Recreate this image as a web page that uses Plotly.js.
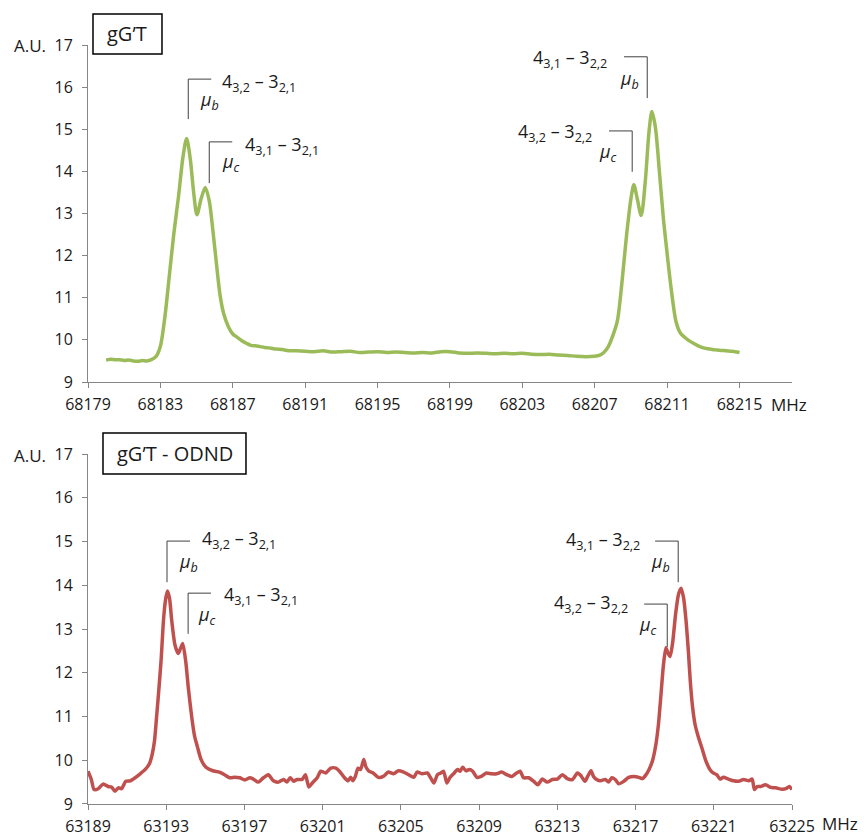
<!DOCTYPE html>
<html>
<head>
<meta charset="utf-8">
<script src="https://cdn.plot.ly/plotly-3.0.1.min.js"></script>
<style>html,body{margin:0;padding:0;background:#fff;}#chart{width:864px;height:837px;}</style>
</head>
<body>
<div id="chart"></div>
<script>
// ---- Top spectrum: gG'T ----
const topFreq = [68180.0,68180.25,68180.5,68180.75,68181.0,68181.25,68181.5,68181.75,68182.0,68182.25,68182.5,68182.75,68183.0,68183.25,68183.5,68183.75,68184.0,68184.25,68184.45,68184.65,68184.85,68185.02,68185.25,68185.48,68185.7,68185.9,68186.1,68186.3,68186.5,68186.75,68187.0,68187.25,68187.5,68187.75,68188.0,68188.25,68188.5,68188.75,68189.0,68189.25,68189.5,68189.75,68190.0,68190.5,68191.0,68191.5,68192.0,68192.5,68193.0,68193.5,68194.0,68194.5,68195.0,68195.5,68196.0,68196.5,68197.0,68197.5,68198.0,68198.5,68199.0,68199.5,68200.0,68200.5,68201.0,68201.5,68202.0,68202.5,68203.0,68203.5,68204.0,68204.5,68205.0,68205.5,68206.0,68206.5,68207.0,68207.25,68207.5,68207.75,68208.0,68208.25,68208.5,68208.75,68209.0,68209.16,68209.35,68209.57,68209.8,68210.0,68210.16,68210.35,68210.58,68210.8,68211.0,68211.23,68211.5,68211.75,68212.0,68212.25,68212.5,68212.75,68213.0,68213.25,68213.5,68213.75,68214.0,68214.25,68214.5,68214.75,68215.0];
const topAmp = [9.52,9.54,9.53,9.53,9.51,9.52,9.50,9.49,9.51,9.50,9.53,9.60,9.85,10.55,11.55,12.55,13.4,14.35,14.78,14.3,13.45,12.97,13.35,13.62,13.3,12.6,11.8,11.05,10.62,10.32,10.14,10.06,9.98,9.92,9.87,9.86,9.84,9.82,9.81,9.79,9.78,9.77,9.75,9.74,9.73,9.72,9.74,9.71,9.72,9.73,9.70,9.71,9.72,9.70,9.71,9.70,9.69,9.70,9.69,9.72,9.72,9.69,9.68,9.69,9.68,9.67,9.68,9.67,9.68,9.66,9.65,9.66,9.64,9.63,9.61,9.60,9.61,9.63,9.70,9.84,10.1,10.45,11.35,12.45,13.35,13.68,13.35,12.95,13.8,14.95,15.42,15.05,13.96,12.85,12.05,11.19,10.42,10.15,10.05,9.97,9.91,9.85,9.81,9.79,9.77,9.76,9.75,9.74,9.73,9.72,9.70];

// ---- Bottom spectrum: gG'T - ODND ----
const botFreq = [63189.0,63189.17,63189.31,63189.52,63189.78,63190.03,63190.2,63190.38,63190.55,63190.72,63190.93,63191.16,63191.41,63191.67,63191.93,63192.14,63192.28,63192.4,63192.5,63192.62,63192.74,63192.86,63192.96,63193.06,63193.17,63193.28,63193.45,63193.62,63193.84,63194.0,63194.12,63194.22,63194.33,63194.45,63194.6,63194.78,63195.03,63195.38,63195.72,63195.98,63196.24,63196.5,63196.76,63197.02,63197.28,63197.45,63197.71,63197.97,63198.22,63198.48,63198.74,63199.0,63199.17,63199.34,63199.52,63199.69,63199.95,63200.12,63200.29,63200.47,63200.72,63200.9,63201.16,63201.41,63201.68,63201.86,63202.12,63202.3,63202.43,63202.55,63202.67,63202.81,63202.94,63203.1,63203.2,63203.36,63203.58,63203.84,63204.1,63204.36,63204.62,63204.88,63205.14,63205.4,63205.66,63205.83,63206.09,63206.35,63206.52,63206.69,63206.87,63207.04,63207.18,63207.35,63207.5,63207.73,63207.9,63208.03,63208.16,63208.33,63208.5,63208.67,63208.89,63209.11,63209.37,63209.63,63209.89,63210.15,63210.41,63210.67,63210.92,63211.1,63211.27,63211.53,63211.79,63212.0,63212.23,63212.48,63212.74,63213.0,63213.26,63213.51,63213.77,63214.03,63214.2,63214.41,63214.55,63214.72,63214.85,63215.01,63215.2,63215.45,63215.62,63215.79,63215.96,63216.14,63216.4,63216.65,63216.91,63217.17,63217.35,63217.52,63217.69,63217.86,63218.04,63218.17,63218.3,63218.42,63218.55,63218.66,63218.77,63218.9,63219.05,63219.2,63219.33,63219.46,63219.59,63219.7,63219.8,63219.92,63220.05,63220.2,63220.42,63220.6,63220.8,63220.97,63221.15,63221.32,63221.49,63221.75,63222.01,63222.27,63222.53,63222.79,63222.96,63223.08,63223.22,63223.39,63223.65,63223.91,63224.17,63224.43,63224.69,63224.86,63225.0];
const botAmp = [9.75,9.56,9.33,9.35,9.46,9.40,9.39,9.29,9.37,9.35,9.52,9.53,9.60,9.69,9.79,9.92,10.13,10.44,10.95,11.6,12.3,13.2,13.65,13.87,13.7,13.2,12.63,12.44,12.67,12.25,11.7,11.3,10.9,10.55,10.3,10.02,9.84,9.76,9.73,9.67,9.60,9.61,9.60,9.55,9.60,9.57,9.50,9.60,9.67,9.53,9.50,9.56,9.50,9.60,9.52,9.56,9.56,9.67,9.39,9.48,9.60,9.75,9.71,9.82,9.82,9.75,9.60,9.53,9.61,9.53,9.63,9.82,9.79,10.02,9.86,9.75,9.71,9.61,9.63,9.73,9.69,9.76,9.73,9.67,9.61,9.73,9.69,9.71,9.60,9.48,9.67,9.71,9.75,9.48,9.60,9.71,9.79,9.75,9.84,9.76,9.79,9.75,9.61,9.63,9.71,9.69,9.69,9.73,9.67,9.63,9.71,9.75,9.60,9.60,9.52,9.44,9.57,9.50,9.56,9.57,9.67,9.58,9.56,9.71,9.65,9.52,9.63,9.76,9.63,9.56,9.53,9.56,9.50,9.60,9.56,9.46,9.52,9.61,9.63,9.61,9.58,9.66,9.79,9.98,10.36,10.82,11.5,12.15,12.57,12.45,12.37,12.7,13.35,13.8,13.93,13.7,13.15,12.5,11.8,11.2,10.8,10.55,10.24,9.98,9.79,9.71,9.67,9.57,9.61,9.57,9.53,9.52,9.56,9.53,9.57,9.33,9.40,9.40,9.44,9.38,9.37,9.34,9.35,9.40,9.33];

// ---- Labels ----
const panelTitles = ["gG\u2019T", "gG\u2019T - ODND"];
const yUnit = "A.U.";
const xUnit = "MHz";
const topLines = ["4<sub>3,2</sub> \u2013 3<sub>2,1</sub>", "4<sub>3,1</sub> \u2013 3<sub>2,1</sub>", "4<sub>3,1</sub> \u2013 3<sub>2,2</sub>", "4<sub>3,2</sub> \u2013 3<sub>2,2</sub>"];
const dipoles = ["<i>\u03bc<sub>b</sub></i>", "<i>\u03bc<sub>c</sub></i>", "<i>\u03bc<sub>b</sub></i>", "<i>\u03bc<sub>c</sub></i>"];

const FONT = "'Open Sans', 'Noto Sans', sans-serif";
const AXC = '#868686';
const TXT = '#1a1a1a';

const traces = [
  {x: topFreq, y: topAmp, xaxis: 'x2', yaxis: 'y2', type: 'scatter', mode: 'lines',
   line: {color: '#9BBB59', width: 3.5, shape: 'spline', smoothing: 0.8}, hoverinfo: 'skip'},
  {x: botFreq, y: botAmp, xaxis: 'x', yaxis: 'y', type: 'scatter', mode: 'lines',
   line: {color: '#C0504D', width: 3.5, shape: 'spline', smoothing: 0.6}, hoverinfo: 'skip'}
];

function xax(range, t0, anchor) {
  return {range: range, tick0: t0, dtick: 4, tickmode: 'linear', tickformat: 'd', anchor: anchor,
    showline: true, linecolor: AXC, linewidth: 1, ticks: 'outside', ticklen: 5, tickcolor: AXC,
    showgrid: false, zeroline: false, ticklabelstandoff: 3, tickfont: {family: FONT, size: 16, color: TXT}, fixedrange: true};
}
function yax(domain, anchor) {
  return {range: [9, 17], dtick: 1, tick0: 9, tickmode: 'linear', domain: domain, anchor: anchor,
    showline: true, linecolor: AXC, linewidth: 1, ticks: 'outside', ticklen: 5, tickcolor: AXC,
    showgrid: false, zeroline: false, ticklabelstandoff: 6, tickfont: {family: FONT, size: 16, color: TXT}, fixedrange: true};
}

// bracket helper: horizontal segment + vertical segment
function bracket(xr, yr, xL, xR, yTop, xV, yBot) {
  const ln = {color: '#404040', width: 1};
  return [
    {type: 'line', xref: xr, yref: yr, x0: xL, x1: xR, y0: yTop, y1: yTop, line: ln},
    {type: 'line', xref: xr, yref: yr, x0: xV, x1: xV, y0: yTop, y1: yBot, line: ln}
  ];
}

const shapes = [].concat(
  bracket('x2','y2', 68184.54, 68185.81, 16.19, 68184.54, 15.24),
  bracket('x2','y2', 68185.70, 68186.97, 14.70, 68185.70, 13.72),
  bracket('x2','y2', 68208.62, 68209.90, 16.72, 68209.90, 15.74),
  bracket('x2','y2', 68207.79, 68209.07, 14.96, 68209.07, 13.99),
  bracket('x','y', 63193.04, 63194.22, 15.01, 63193.04, 14.07),
  bracket('x','y', 63194.12, 63195.29, 13.82, 63194.12, 12.89),
  bracket('x','y', 63218.00, 63219.18, 15.01, 63219.18, 14.07),
  bracket('x','y', 63217.44, 63218.62, 13.57, 63218.62, 12.59),
  [
    {type: 'rect', xref: 'paper', yref: 'paper', x0: 0.0071, x1: 0.1051, y0: 0.9881, y1: 1.0408, line: {color: '#000', width: 1.5}, fillcolor: 'rgba(0,0,0,0)'},
    {type: 'rect', xref: 'paper', yref: 'paper', x0: 0.0213, x1: 0.2244, y0: 0.4348, y1: 0.4888, line: {color: '#000', width: 1.5}, fillcolor: 'rgba(0,0,0,0)'}
  ]
);

function lab(xr, yr, x, y, text, xanchor, size) {
  return {xref: xr, yref: yr, x: x, y: y, text: text, showarrow: false, xanchor: xanchor, yanchor: 'middle',
          font: {family: FONT, size: size, color: TXT}};
}

const annotations = [
  lab('paper','paper', 0.0561, 1.0150, panelTitles[0], 'center', 20),
  lab('paper','paper', 0.1229, 0.4623, panelTitles[1], 'center', 20),
  lab('paper','paper', -0.0824, 1.0, yUnit, 'center', 17),
  lab('paper','paper', -0.0824, 0.4598, yUnit, 'center', 17),
  lab('paper','paper', 0.9957, 0.5270, xUnit, 'center', 17),
  lab('paper','paper', 1.068, -0.0260, xUnit, 'center', 17),
  // top panel line labels
  lab('x2','y2', 68186.31, 16.12, topLines[0], 'left', 18),
  lab('x2','y2', 68185.72, 15.69, dipoles[0], 'center', 18),
  lab('x2','y2', 68187.58, 14.62, topLines[1], 'left', 18),
  lab('x2','y2', 68186.92, 14.20, dipoles[1], 'center', 18),
  lab('x2','y2', 68207.79, 16.67, topLines[2], 'right', 18),
  lab('x2','y2', 68208.90, 16.17, dipoles[2], 'center', 18),
  lab('x2','y2', 68206.96, 14.93, topLines[3], 'right', 18),
  lab('x2','y2', 68207.74, 14.44, dipoles[3], 'center', 18),
  // bottom panel line labels
  lab('x','y', 63194.73, 15.05, topLines[0], 'left', 18),
  lab('x','y', 63194.12, 14.53, dipoles[0], 'center', 18),
  lab('x','y', 63195.85, 13.77, topLines[1], 'left', 18),
  lab('x','y', 63195.09, 13.32, dipoles[1], 'center', 18),
  lab('x','y', 63217.34, 15.03, topLines[2], 'right', 18),
  lab('x','y', 63218.26, 14.51, dipoles[2], 'center', 18),
  lab('x','y', 63216.72, 13.59, topLines[3], 'right', 18),
  lab('x','y', 63217.64, 13.07, dipoles[3], 'center', 18)
];

const layout = {
  width: 864, height: 837,
  margin: {l: 88, r: 72, t: 45, b: 33},
  paper_bgcolor: '#fff', plot_bgcolor: '#fff',
  showlegend: false,
  xaxis: xax([63189, 63225], 63189, 'y'),
  yaxis: yax([0, 0.4611], 'x'),
  xaxis2: xax([68179, 68217.9], 68179, 'y2'),
  yaxis2: yax([0.556, 1], 'x2'),
  shapes: shapes,
  annotations: annotations,
  font: {family: FONT}
};

Plotly.newPlot('chart', traces, layout, {displayModeBar: false, staticPlot: true});
</script>
</body>
</html>
